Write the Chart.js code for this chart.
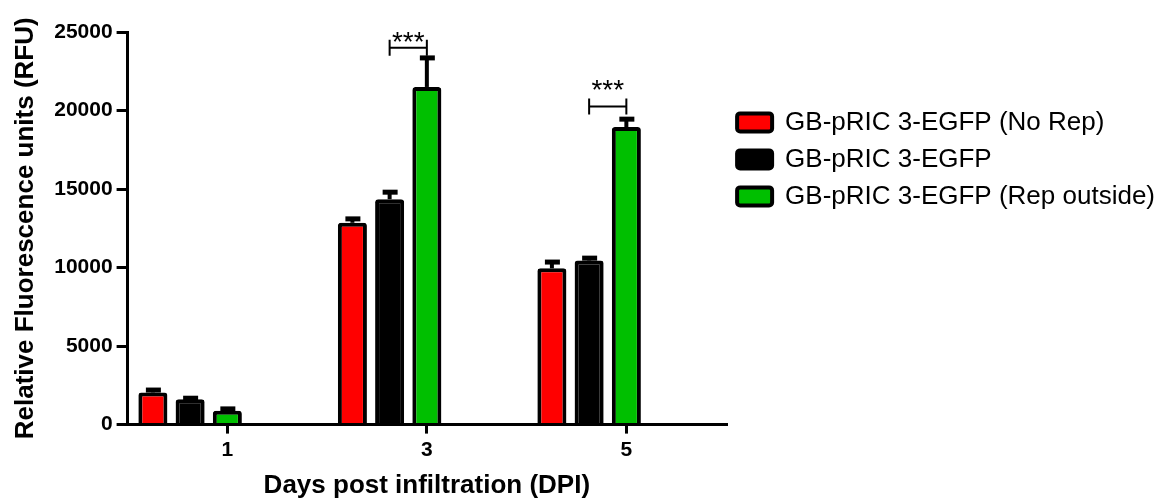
<!DOCTYPE html>
<html>
<head>
<meta charset="utf-8">
<title>Relative fluorescence by DPI</title>
<script src="https://cdn.jsdelivr.net/npm/chart.js@4/dist/chart.umd.min.js"></script>
<style>
  html, body { margin: 0; background: #fff; }
  #wrap { width: 1173px; height: 501px; position: relative; }
</style>
</head>
<body>
<div id="wrap"><canvas id="chart"></canvas></div>
<script>
const dpiLabels = ["1", "3", "5"];
const seriesNames = ["GB-pRIC 3-EGFP (No Rep)", "GB-pRIC 3-EGFP", "GB-pRIC 3-EGFP (Rep outside)"];
const seriesColors = ["#ff0000", "#000000", "#00bf00"];
const noRepMean = [2050, 12850, 9950];
const noRepErr = [150, 250, 400];
const egfpMean = [1620, 14350, 10450];
const egfpErr = [60, 450, 150];
const repOutsideMean = [880, 21500, 18950];
const repOutsideErr = [120, 1850, 500];
const yTicks = [0, 5000, 10000, 15000, 20000, 25000];
// significance between GB-pRIC 3-EGFP and (Rep outside) at each DPI
const sigText = ["", "***", "***"];
const sigBracket = [null, 24000, 20250];
const sigLabel = [null, 24750, 21650];

const means = [noRepMean, egfpMean, repOutsideMean];
const errs = [noRepErr, egfpErr, repOutsideErr];
const family = "Arial, 'Liberation Sans', sans-serif";
Chart.defaults.font.family = family;
Chart.defaults.color = "#000";

const errorBars = {
  id: "errorBars",
  afterDatasetsDraw(chart) {
    const ctx = chart.ctx;
    const y = chart.scales.y;
    ctx.save();
    ctx.strokeStyle = "#000";
    means.forEach((vals, i) => {
      chart.getDatasetMeta(i).data.forEach((bar, j) => {
        const top = y.getPixelForValue(vals[j] + errs[i][j]);
        ctx.lineWidth = 4;
        ctx.beginPath();
        ctx.moveTo(bar.x, bar.y);
        ctx.lineTo(bar.x, top);
        ctx.stroke();
        ctx.lineWidth = 5;
        ctx.beginPath();
        ctx.moveTo(bar.x - 7, top);
        ctx.lineTo(bar.x + 8, top);
        ctx.stroke();
      });
    });
    ctx.restore();
  },
};

const sigBrackets = {
  id: "sigBrackets",
  afterDatasetsDraw(chart) {
    const ctx = chart.ctx;
    const y = chart.scales.y;
    const from = chart.getDatasetMeta(1).data;
    const to = chart.getDatasetMeta(2).data;
    ctx.save();
    ctx.strokeStyle = "#000";
    ctx.fillStyle = "#000";
    ctx.lineWidth = 2;
    ctx.font = "28px " + family;
    ctx.textAlign = "center";
    ctx.textBaseline = "middle";
    sigText.forEach((txt, j) => {
      if (!txt) return;
      const x1 = from[j].x;
      const x2 = to[j].x;
      const yy = y.getPixelForValue(sigBracket[j]);
      ctx.beginPath();
      ctx.moveTo(x1, yy - 8);
      ctx.lineTo(x1, yy + 8);
      ctx.moveTo(x1, yy);
      ctx.lineTo(x2, yy);
      ctx.moveTo(x2, yy - 8);
      ctx.lineTo(x2, yy + 8);
      ctx.stroke();
      ctx.fillText(txt, (x1 + x2) / 2, y.getPixelForValue(sigLabel[j]) + 7);
    });
    ctx.restore();
  },
};

const datasets = means.map((vals, i) => ({
  label: seriesNames[i],
  data: vals,
  backgroundColor: seriesColors[i],
  borderColor: "#000",
  borderWidth: 4,
  borderRadius: 3,
  borderSkipped: "start",
}));
// two empty slots after each group so the last bar sits on the DPI tick
datasets.push({ data: [] }, { data: [] });

new Chart(document.getElementById("chart"), {
  type: "bar",
  data: { labels: dpiLabels, datasets },
  options: {
    responsive: true,
    maintainAspectRatio: false,
    animation: false,
    categoryPercentage: 0.933,
    barPercentage: 0.78,
    layout: { padding: { top: 32, left: 0, right: 8, bottom: 0 } },
    plugins: {
      tooltip: { enabled: false },
      legend: {
        position: "right",
        align: "start",
        maxWidth: 460,
        title: { display: true, text: "", padding: { top: 52, bottom: 0 } },
        labels: {
          filter: (item) => !!item.text,
          boxWidth: 35,
          boxHeight: 18,
          useBorderRadius: true,
          borderRadius: 3,
          padding: 11,
          color: "#000",
          font: { size: 26 },
        },
      },
    },
    scales: {
      x: {
        ticks: { color: "#000", font: { size: 21, weight: "bold" }, padding: 4 },
        grid: { drawOnChartArea: false, offset: false, color: "#000", lineWidth: 3, tickLength: 9 },
        border: { color: "#000", width: 3, z: 1 },
        title: {
          display: true,
          text: "Days post infiltration (DPI)",
          color: "#000",
          font: { size: 26, weight: "bold" },
          padding: { top: 3, bottom: 0 },
        },
      },
      y: {
        min: 0,
        max: 25000,
        afterBuildTicks: (scale) => {
          scale.ticks = yTicks.map((v) => ({ value: v }));
        },
        ticks: { color: "#000", font: { size: 21, weight: "bold" }, padding: 4, callback: (v) => String(v) },
        grid: { drawOnChartArea: false, color: "#000", lineWidth: 3, tickLength: 11 },
        border: { color: "#000", width: 3, z: 1 },
        title: {
          display: true,
          text: "Relative Fluorescence units (RFU)",
          color: "#000",
          font: { size: 26, weight: "bold" },
          padding: { top: 10, bottom: 9 },
        },
      },
    },
  },
  plugins: [errorBars, sigBrackets],
});
</script>
</body>
</html>
